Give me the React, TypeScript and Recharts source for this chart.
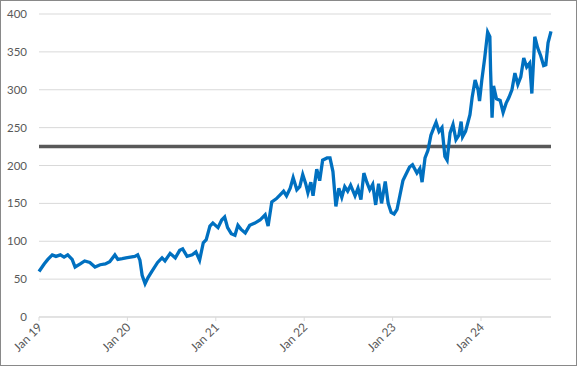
import { LineChart, Line, XAxis, YAxis, CartesianGrid, ReferenceLine } from "recharts";

// months since Jan 2019
const months = [
  0, 0.7, 1.2, 1.8, 2.3, 2.9, 3.4, 3.9, 4.5, 4.9, 5.6, 6.2, 6.9, 7.6, 8.3, 9.0, 9.6, 10.3, 10.7, 11.3, 11.8,
  12.4, 13.0, 13.4, 13.7, 14.0, 14.4, 14.8, 15.3, 16.1, 16.7, 17.1, 17.8, 18.5, 19.1, 19.5, 20.1, 20.8, 21.3, 21.8,
  22.3, 22.7, 23.2, 23.6, 24.3, 24.8, 25.2, 25.6, 26.1, 26.6, 27.0, 27.4, 28.0, 28.6, 29.3, 30.0, 30.7, 31.1, 31.6,
  32.2, 32.7, 33.2, 33.6, 34.1, 34.5, 35.0, 35.4, 35.8, 36.2, 36.5, 36.9, 37.2, 37.7, 38.1, 38.5, 39.1, 39.5, 39.9,
  40.3, 40.7, 41.1, 41.5, 41.9, 42.3, 42.9, 43.3, 43.7, 44.1, 44.5, 44.9, 45.3, 45.7, 46.1, 46.5, 47.0, 47.4, 47.8,
  48.2, 48.6, 49.0, 49.4, 49.8, 50.3, 50.7, 51.3, 51.7, 52.0, 52.4, 52.8, 53.2, 53.6, 53.9, 54.3, 54.7, 55.1, 55.4,
  55.8, 56.2, 56.6, 57.0, 57.3, 57.5, 57.9, 58.5, 58.8, 59.2, 59.6, 59.8, 60.1, 60.5, 60.9, 61.2, 61.3, 61.5, 61.7,
  62.1, 62.6, 63.0, 63.4, 63.8, 64.2, 64.6, 65.0, 65.4, 65.8, 66.2, 66.6, 66.9, 67.3, 67.7, 68.1, 68.5, 68.8, 69.1, 69.5,
];
const prices = [
  60, 70, 76, 82, 80, 82, 79, 82, 76, 66, 70, 74, 72, 66, 69, 70, 73, 82, 76, 77, 78,
  79, 80, 82, 75, 55, 44, 52, 60, 72, 78, 74, 84, 78, 88, 90, 80, 82, 86, 75,
  98, 102, 120, 124, 118, 128, 132, 118, 110, 108, 121, 116, 111, 121, 124, 128, 135, 120, 152,
  156, 161, 166, 160, 170, 184, 168, 172, 188, 176, 164, 178, 160, 195, 180, 207, 210, 210, 192,
  146, 170, 158, 172, 166, 174, 160, 170, 155, 190, 178, 168, 175, 148, 176, 150, 179, 150, 138,
  136, 142, 161, 180, 188, 198, 201, 190, 196, 178, 210, 220, 240, 250, 257, 245, 250, 212, 207,
  243, 254, 234, 240, 258, 238, 245, 267, 290, 313, 300, 285, 312, 342, 376, 370, 325, 263, 305,
  288, 286, 270, 282, 290, 300, 322, 307, 317, 342, 330, 335, 295, 370, 355, 345, 332, 333, 362, 377,
];
const yTicks = [0, 50, 100, 150, 200, 250, 300, 350, 400];
const xTicks = [0, 12, 24, 36, 48, 60];
const xLabels = ["Jan 19", "Jan 20", "Jan 21", "Jan 22", "Jan 23", "Jan 24"];
const threshold = 225;

const data = months.map((t, i) => ({ t, v: prices[i] }));

const FONT = "Lato, 'Open Sans', sans-serif";

const XTick = ({ x, y, payload }: any) => {
  const label = xLabels[xTicks.indexOf(payload.value)];
  return (
    <text
      x={x + 4}
      y={y + 5}
      transform={`rotate(-45 ${x + 4} ${y + 5})`}
      textAnchor="end"
      fill="#595959"
      fontSize={12}
      fontFamily={FONT}
    >
      {label}
    </text>
  );
};

export default function App() {
  return (
    <div
      style={{
        position: "fixed",
        left: 0,
        top: 0,
        width: 577,
        height: 366,
        border: "1px solid #898989",
        boxSizing: "border-box",
        background: "#fff",
      }}
    >
      <LineChart width={575} height={364} data={data} margin={{ top: 13, right: 25, left: 0, bottom: 0 }}>
        <CartesianGrid vertical={false} stroke="#d9d9d9" />
        <XAxis
          dataKey="t"
          type="number"
          domain={[0, 69.5]}
          ticks={xTicks}
          tick={<XTick />}
          tickSize={4}
          tickMargin={2}
          stroke="#d9d9d9"
          height={48}
          interval={0}
        />
        <YAxis
          domain={[0, 400]}
          ticks={yTicks}
          width={38}
          axisLine={false}
          tickLine={false}
          tickSize={6}
          tickMargin={6}
          tick={{ fill: "#595959", fontSize: 11.5, fontFamily: FONT }}
        />
        <ReferenceLine y={threshold} stroke="#595959" strokeWidth={3.5} ifOverflow="extendDomain" />
        <Line
          type="linear"
          dataKey="v"
          stroke="#0070C0"
          strokeWidth={3.3}
          dot={false}
          isAnimationActive={false}
        />
      </LineChart>
    </div>
  );
}
